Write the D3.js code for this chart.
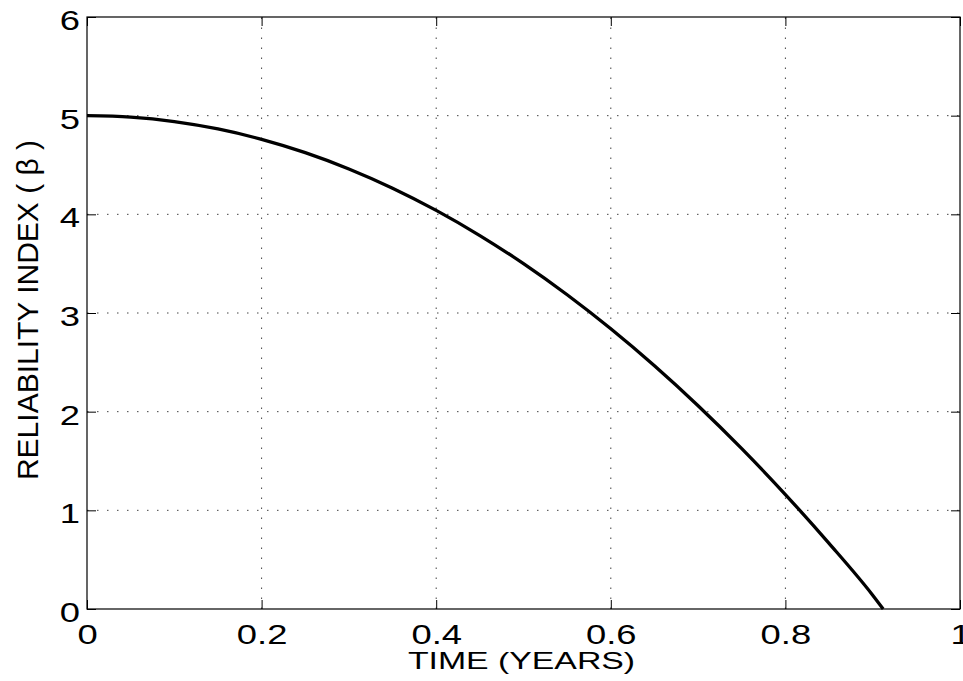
<!DOCTYPE html>
<html>
<head>
<meta charset="utf-8">
<script src="https://cdn.jsdelivr.net/npm/d3@7"></script>
<style>
  body { margin: 0; background: #fff; }
  text { font-family: "Liberation Sans", Arial, Helvetica, sans-serif; fill: #000; }
</style>
</head>
<body>
<svg id="chart"></svg>
<script>
// Data
const time = [0, 0.05, 0.1, 0.15, 0.2, 0.25, 0.3, 0.35, 0.4, 0.45, 0.5, 0.55, 0.6, 0.65, 0.7, 0.75, 0.8, 0.85, 0.9, 0.912];
const beta = [5, 4.985, 4.94, 4.865, 4.76, 4.625, 4.46, 4.265, 4.04, 3.785, 3.5, 3.185, 2.84, 2.465, 2.06, 1.625, 1.16, 0.665, 0.14, 0];
const xTicks = [0, 0.2, 0.4, 0.6, 0.8, 1];
const yTicks = [0, 1, 2, 3, 4, 5, 6];

const width = 963, height = 681;
const margin = { top: 17, right: 3, bottom: 72, left: 87 };
const stretch = 1.3; // the original tick text is a bit wider than normal

const svg = d3.select("#chart")
    .attr("width", width)
    .attr("height", height);

const x = d3.scaleLinear().domain([0, 1]).range([margin.left, width - margin.right]);
const y = d3.scaleLinear().domain([0, 6]).range([height - margin.bottom, margin.top]);

// dotted grid
svg.append("g")
    .selectAll("line")
    .data(xTicks.slice(1, -1))
    .join("line")
    .attr("x1", d => x(d)).attr("x2", d => x(d))
    .attr("y1", y(0)).attr("y2", y(6))
    .attr("stroke", "#444").attr("stroke-width", 1)
    .attr("stroke-dasharray", "1.5,8.5");

svg.append("g")
    .selectAll("line")
    .data(yTicks.slice(1, -1))
    .join("line")
    .attr("x1", x(0)).attr("x2", x(1))
    .attr("y1", d => y(d)).attr("y2", d => y(d))
    .attr("stroke", "#444").attr("stroke-width", 1)
    .attr("stroke-dasharray", "1.5,8.5");

// axes with inward ticks
const gBottom = svg.append("g")
    .attr("transform", `translate(0,${y(0)})`)
    .call(d3.axisBottom(x).tickValues(xTicks).tickFormat(d3.format("")).tickSize(-9).tickPadding(15));
const gLeft = svg.append("g")
    .attr("transform", `translate(${x(0)},0)`)
    .call(d3.axisLeft(y).tickValues(yTicks).tickFormat(d3.format("d")).tickSize(-9).tickPadding(7));
const gTop = svg.append("g")
    .attr("transform", `translate(0,${y(6)})`)
    .call(d3.axisTop(x).tickValues(xTicks).tickSize(-9).tickFormat(""));
const gRight = svg.append("g")
    .attr("transform", `translate(${x(1)},0)`)
    .call(d3.axisRight(y).tickValues(yTicks).tickSize(-9).tickFormat(""));

[gBottom, gLeft, gTop, gRight].forEach(g => {
    g.select(".domain").remove();
    g.selectAll("line").attr("stroke", "#000").attr("stroke-width", 1);
    g.selectAll("text")
        .style("font-size", "28px")
        .attr("font-family", null)
        .attr("x", function() { return (+d3.select(this).attr("x") || 0) / stretch; })
        .attr("transform", `scale(${stretch},1)`);
});
gLeft.selectAll("text").attr("dy", "0.45em");

// frame
svg.append("rect")
    .attr("x", x(0)).attr("y", y(6))
    .attr("width", x(1) - x(0)).attr("height", y(0) - y(6))
    .attr("fill", "none").attr("stroke", "#000").attr("stroke-width", 1.2);

// curve
const line = d3.line()
    .x((d, i) => x(time[i]))
    .y(d => y(d))
    .curve(d3.curveMonotoneX);

svg.append("path")
    .datum(beta)
    .attr("d", line)
    .attr("fill", "none")
    .attr("stroke", "#000")
    .attr("stroke-width", 3.3);

// axis labels
svg.append("text")
    .attr("transform", `translate(521.5,669) scale(1.38,1)`)
    .attr("text-anchor", "middle")
    .style("font-size", "24.5px")
    .text("TIME (YEARS)");

svg.append("text")
    .attr("transform", `translate(37.5,310) rotate(-90)`)
    .attr("text-anchor", "middle")
    .style("font-size", "30px")
    .text("RELIABILITY INDEX ( β )");
</script>
</body>
</html>
